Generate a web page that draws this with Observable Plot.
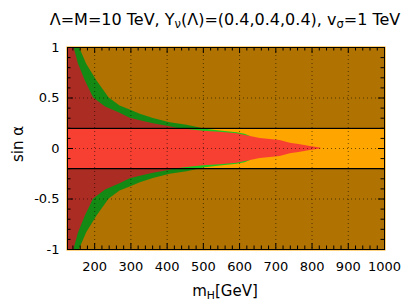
<!DOCTYPE html>
<html>
<head>
<meta charset="utf-8">
<script src="https://cdn.jsdelivr.net/npm/d3@7"></script>
<script src="https://cdn.jsdelivr.net/npm/@observablehq/plot@0.6"></script>
<style>
  html, body { margin: 0; padding: 0; background: #fff; }
  #wrap { position: relative; width: 407px; height: 308px; font-family: "DejaVu Sans", sans-serif; color: #000; }
  #chart { position: absolute; left: 0; top: 0; }
  .lbl { position: absolute; white-space: nowrap; line-height: 1; }
  #title { left: 225px; top: 12px; font-size: 16px; transform: translateX(-50%); }
  #xlab { left: 225px; top: 284px; font-size: 15px; transform: translateX(-50%); }
  #ylab { left: 18px; top: 144px; font-size: 15px; transform: translate(-50%, -50%) rotate(-90deg); }
  sub { font-size: 0.72em; vertical-align: -0.3em; line-height: 0; }
</style>
</head>
<body>
<div id="wrap">
  <div id="chart"></div>
  <div class="lbl" id="title">Λ=M=10 TeV, Y<sub>ν</sub>(Λ)=(0.4,0.4,0.4), v<sub>σ</sub>=1 TeV</div>
  <div class="lbl" id="xlab">m<sub>H</sub>[GeV]</div>
  <div class="lbl" id="ylab">sin α</div>
</div>
<script>
// Axis settings
const xDomain = [125, 1000];
const yDomain = [-1, 1];
const xMajor = [200, 300, 400, 500, 600, 700, 800, 900, 1000];
const xMinor = d3.range(140, 1000, 20).filter(v => v % 100 !== 0);
const yMajor = [-1, -0.5, 0, 0.5, 1];
const yMinor = [-0.9, -0.8, -0.7, -0.6, -0.4, -0.3, -0.2, -0.1, 0.1, 0.2, 0.3, 0.4, 0.6, 0.7, 0.8, 0.9];
const xGrid = [200, 300, 400, 500, 600, 700, 800, 900];
const yGrid = [-0.5, 0, 0.5];

// Band |sin α| < 0.2 boundary lines and excluded strips
const bandLines = [0.2, -0.2];
const excluded = [{lo: 0.2, hi: 1}, {lo: -1, hi: -0.2}];

// Green allowed region: upper bound of |sin α| vs m_H (symmetric)
const greenMass = [125, 158, 178, 206, 240, 270, 298, 326, 362, 408, 455, 491, 500, 547, 593, 615, 630];
const greenSin  = [1.6, 1.0, 0.835, 0.67, 0.5, 0.42, 0.38, 0.34, 0.296, 0.256, 0.23, 0.203, 0.193, 0.174, 0.157, 0.14, 0.12];

// Red allowed region: upper bound of |sin α| vs m_H (symmetric)
const redMass = [125, 143, 155, 174, 197, 230, 270, 298, 326, 362, 408, 427, 455, 500, 547, 593, 630, 657, 685, 712, 740, 768, 795, 823, 826];
const redSin  = [1.4, 1.0, 0.84, 0.67, 0.5, 0.41, 0.35, 0.30, 0.275, 0.245, 0.215, 0.20, 0.188, 0.17, 0.16, 0.145, 0.12, 0.098, 0.09, 0.078, 0.052, 0.036, 0.02, 0.006, 0];

const green = greenMass.map((m, i) => ({m, s: greenSin[i]}));
const red = redMass.map((m, i) => ({m, s: redSin[i]}));

const W = 407, H = 308;
const mL = 67, mR = 23, mT = 47, mB = 59;
const innerW = W - mL - mR, innerH = H - mT - mB;
const maj = 6, mnr = 3.5;

const plot = Plot.plot({
  width: W, height: H,
  marginLeft: mL, marginRight: mR, marginTop: mT, marginBottom: mB,
  style: {fontFamily: "DejaVu Sans, sans-serif", fontSize: "13px", color: "#000", background: "transparent"},
  x: {domain: xDomain},
  y: {domain: yDomain},
  marks: [
    Plot.frame({fill: "#FFA500", inset: -1}),
    Plot.areaY(green, {x: "m", y1: d => -d.s, y2: "s", fill: "#1EC81E", clip: true}),
    Plot.areaY(red, {x: "m", y1: d => -d.s, y2: "s", fill: "#F84032", clip: true}),
    Plot.rect(excluded, {y1: "lo", y2: "hi", fill: "#000", fillOpacity: 0.31}),
    Plot.ruleX(xGrid, {x: d => d, stroke: "#000", strokeOpacity: 0.55, strokeDasharray: "1,3"}),
    Plot.ruleY(yGrid, {y: d => d, stroke: "#000", strokeOpacity: 0.55, strokeDasharray: "1,3"}),
    Plot.ruleY(bandLines, {y: d => d, stroke: "#000", strokeWidth: 1.3}),
    // inward ticks, bottom & top
    Plot.tickX(xMajor, {x: d => d, insetTop: innerH - maj, stroke: "#000"}),
    Plot.tickX(xMajor, {x: d => d, insetBottom: innerH - maj, stroke: "#000"}),
    Plot.tickX(xMinor, {x: d => d, insetTop: innerH - mnr, stroke: "#000"}),
    Plot.tickX(xMinor, {x: d => d, insetBottom: innerH - mnr, stroke: "#000"}),
    // inward ticks, left & right
    Plot.tickY(yMajor, {y: d => d, insetRight: innerW - maj, stroke: "#000"}),
    Plot.tickY(yMajor, {y: d => d, insetLeft: innerW - maj, stroke: "#000"}),
    Plot.tickY(yMinor, {y: d => d, insetRight: innerW - mnr, stroke: "#000"}),
    Plot.tickY(yMinor, {y: d => d, insetLeft: innerW - mnr, stroke: "#000"}),
    Plot.frame({stroke: "#000", strokeWidth: 1}),
    Plot.axisX({ticks: xMajor, tickSize: 0, tickPadding: 12, tickFormat: d => String(d), label: null, fontSize: 13}),
    Plot.axisY({ticks: yMajor, tickSize: 0, tickPadding: 8, tickFormat: d => String(d), label: null, fontSize: 13})
  ]
});
document.getElementById("chart").appendChild(plot);
</script>
</body>
</html>
